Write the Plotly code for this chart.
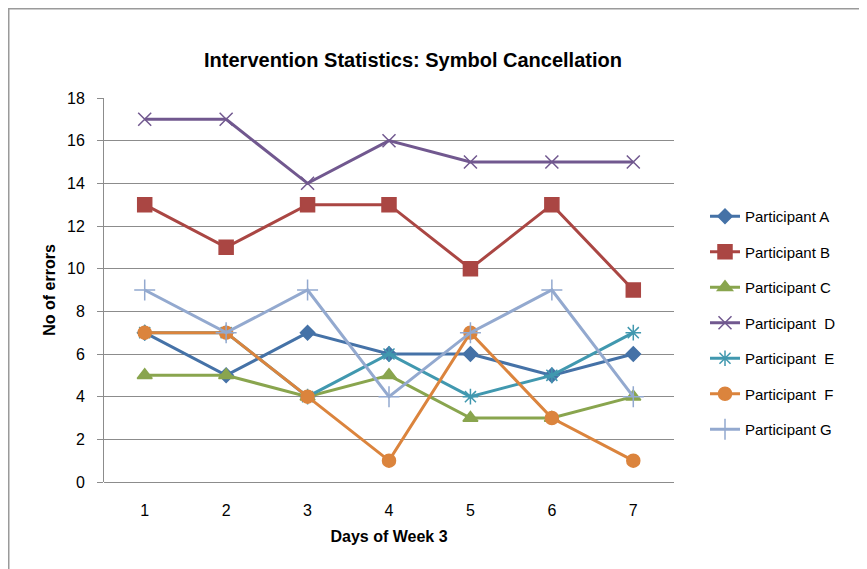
import plotly.graph_objects as go

days = ["1", "2", "3", "4", "5", "6", "7"]
participants = ["Participant A", "Participant B", "Participant C", "Participant  D",
                "Participant  E", "Participant  F", "Participant G"]
part_a = [7, 5, 7, 6, 6, 5, 6]
part_b = [13, 11, 13, 13, 10, 13, 9]
part_c = [5, 5, 4, 5, 3, 3, 4]
part_d = [17, 17, 14, 16, 15, 15, 15]
part_e = [7, 7, 4, 6, 4, 5, 7]
part_f = [7, 7, 4, 1, 7, 3, 1]
part_g = [9, 7, 9, 4, 7, 9, 4]
series = [part_a, part_b, part_c, part_d, part_e, part_f, part_g]

colors = ["#4572A7", "#AA4643", "#89A54E", "#71588F", "#4198AF", "#DB843D", "#93A9CF"]
symbols = ["diamond", "square", "triangle-up", "x-thin", "asterisk", "circle", "cross-thin"]
sizes = [11, 14, 13, 13, 13, 13, 15]

# page has an 8px body margin; figure is sized to fit the window
W, H = 859, 561
L, T = 96, 90
PR, PB = 666, 474  # plot right / bottom in figure px
pw, ph = PR - L, PB - T

fig = go.Figure()
for name, vals, c, s, sz in zip(participants, series, colors, symbols, sizes):
    fig.add_trace(go.Scatter(
        x=days, y=vals, name=name, mode="lines+markers", legendgroup=name,
        line=dict(color=c, width=3),
        marker=dict(symbol=s, size=sz, color=c, line=dict(color=c, width=1.5)),
    ))

fig.update_layout(
    width=W, height=H,
    margin=dict(l=L, r=W - PR, t=T, b=H - PB),
    paper_bgcolor="white", plot_bgcolor="white",
    font=dict(family="Liberation Sans, Arial, sans-serif", size=15, color="#000"),
    title=dict(text="<b>Intervention Statistics: Symbol Cancellation</b>",
               x=(413 - 8) / W, xanchor="center", y=1 - 52 / H, yanchor="middle",
               font=dict(size=20)),
    showlegend=True,
    legend=dict(x=(705 - 8 - L) / pw, y=(PB - 192) / ph, xanchor="left", yanchor="top",
                tracegroupgap=13, font=dict(size=15), bgcolor="rgba(0,0,0,0)"),
    xaxis=dict(type="category", range=[-0.5, 6.5], showgrid=False, showline=False,
               ticks="outside", ticklen=14, tickcolor="rgba(0,0,0,0)",
               tickfont=dict(size=16),
               title=dict(text="<b>Days of Week 3</b>", font=dict(size=16), standoff=12)),
    yaxis=dict(range=[0, 18], dtick=2, showgrid=True, gridcolor="#8c8c8c", gridwidth=1,
               showline=True, linecolor="#8c8c8c", linewidth=1, ticks="outside",
               ticklen=6, tickcolor="#8c8c8c", zeroline=True, zerolinecolor="#8c8c8c",
               zerolinewidth=1, tickfont=dict(size=16), ticklabelstandoff=9,
               title=dict(text="<b>No of errors</b>", font=dict(size=16), standoff=7)),
    shapes=[dict(type="rect", xref="paper", yref="paper",
                 x0=(0.75 - L) / pw, x1=(W + 20 - L) / pw,
                 y0=(PB - H - 20) / ph, y1=(PB - 0.75) / ph,
                 line=dict(color="#9a9a9a", width=1.5), layer="below")],
)

fig.write_html("out.html")
